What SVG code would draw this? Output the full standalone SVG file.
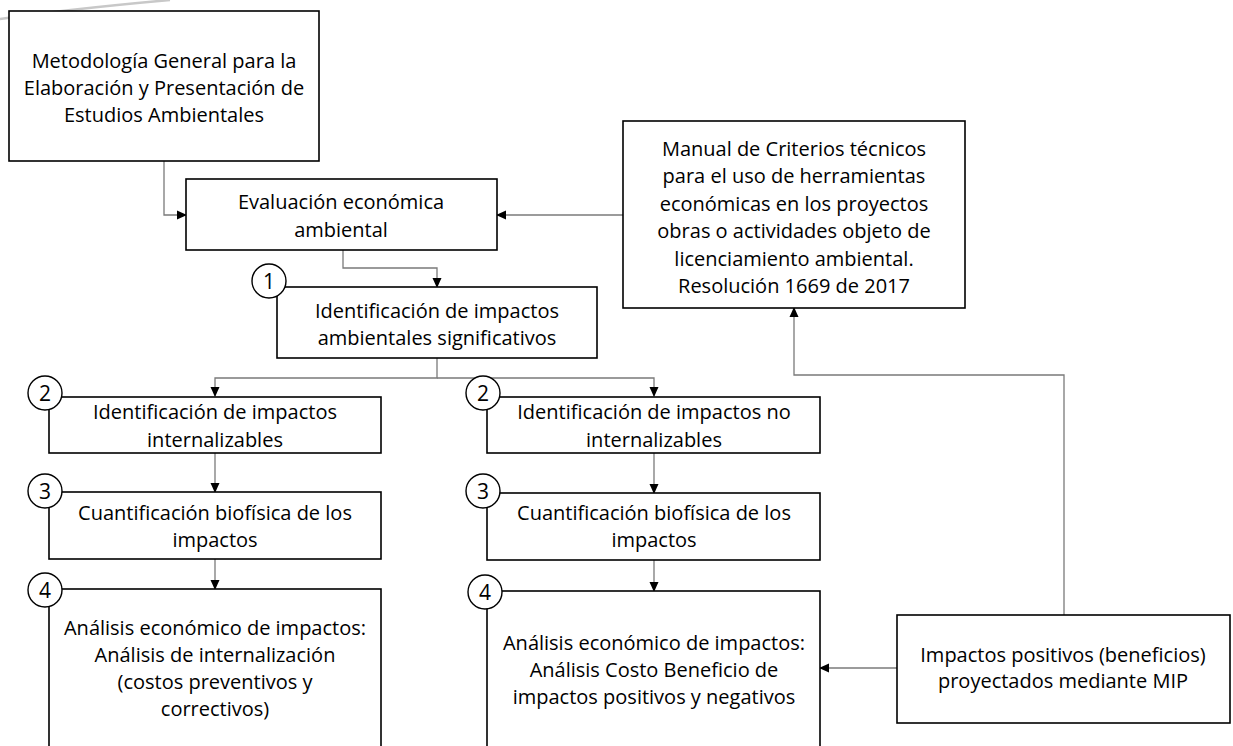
<svg xmlns="http://www.w3.org/2000/svg" width="1233" height="746" viewBox="0 0 1233 746">
<style>
.box{fill:#fff;stroke:#000;stroke-width:1.6}
.t{font-family:"Open Sans","Liberation Sans",sans-serif;font-size:20px;fill:#000;text-anchor:middle}
.num{font-family:"Open Sans","Liberation Sans",sans-serif;font-size:21px;fill:#000;text-anchor:middle}
.circ{fill:#fff;stroke:#000;stroke-width:1.4}
.c{fill:none;stroke:#7a7a7a;stroke-width:1.3}
</style>
<defs>
<marker id="ah" markerWidth="10" markerHeight="10" refX="9" refY="5" orient="auto" markerUnits="userSpaceOnUse">
<path d="M0,0.5 L10,5 L0,9.5 Z" fill="#000"/>
</marker>
</defs>
<rect width="1233" height="746" fill="#fff"/>
<path d="M0,19 Q70,9 170,0" fill="none" stroke="#c8c8c8" stroke-width="2.5"/>
<g id="connectors">
<path class="c" d="M164,161 V215 H186" marker-end="url(#ah)"/>
<path class="c" d="M623,215 H497" marker-end="url(#ah)"/>
<path class="c" d="M343,250 V268 H437 V287" marker-end="url(#ah)"/>
<path class="c" d="M437,358 V378 H215 V396" marker-end="url(#ah)"/>
<path class="c" d="M437,378 H654 V396" marker-end="url(#ah)"/>
<path class="c" d="M215,453 V492" marker-end="url(#ah)"/>
<path class="c" d="M215,559 V589" marker-end="url(#ah)"/>
<path class="c" d="M654,453 V493" marker-end="url(#ah)"/>
<path class="c" d="M654,560 V591" marker-end="url(#ah)"/>
<path class="c" d="M897,668 H820" marker-end="url(#ah)"/>
<path class="c" d="M1064,615 V375 H794 V308" marker-end="url(#ah)"/>
</g>
<g id="metodologia">
<rect class="box" x="9" y="11" width="310" height="150"/>
<text class="t" x="164" y="68">Metodología General para la</text>
<text class="t" x="164" y="95">Elaboración y Presentación de</text>
<text class="t" x="164" y="122">Estudios Ambientales</text>
</g>
<g id="evaluacion">
<rect class="box" x="186" y="179" width="311" height="71"/>
<text class="t" x="341" y="209">Evaluación económica</text>
<text class="t" x="341" y="237">ambiental</text>
</g>
<g id="manual">
<rect class="box" x="623" y="121" width="342" height="187"/>
<text class="t" x="794" y="156">Manual de Criterios técnicos</text>
<text class="t" x="794" y="183">para el uso de herramientas</text>
<text class="t" x="794" y="211">económicas en los proyectos</text>
<text class="t" x="794" y="238">obras o actividades objeto de</text>
<text class="t" x="794" y="266">licenciamiento ambiental.</text>
<text class="t" x="794" y="293">Resolución 1669 de 2017</text>
</g>
<g id="paso1">
<rect class="box" x="277" y="287" width="320" height="71"/>
<text class="t" x="437" y="318">Identificación de impactos</text>
<text class="t" x="437" y="345">ambientales significativos</text>
<circle class="circ" cx="269" cy="281" r="17"/>
<text class="num" x="269" y="289">1</text>
</g>
<g id="paso2a">
<rect class="box" x="49" y="397" width="332" height="56"/>
<text class="t" x="215" y="419">Identificación de impactos</text>
<text class="t" x="215" y="447">internalizables</text>
<circle class="circ" cx="45" cy="393" r="17"/>
<text class="num" x="45" y="401">2</text>
</g>
<g id="paso3a">
<rect class="box" x="49" y="492" width="332" height="67"/>
<text class="t" x="215" y="520">Cuantificación biofísica de los</text>
<text class="t" x="215" y="547">impactos</text>
<circle class="circ" cx="45" cy="491" r="17"/>
<text class="num" x="45" y="499">3</text>
</g>
<g id="paso4a">
<rect class="box" x="49" y="589" width="332" height="170"/>
<text class="t" x="215" y="635">Análisis económico de impactos:</text>
<text class="t" x="215" y="662">Análisis de internalización</text>
<text class="t" x="215" y="689">(costos preventivos y</text>
<text class="t" x="215" y="716">correctivos)</text>
<circle class="circ" cx="45" cy="590" r="17"/>
<text class="num" x="45" y="598">4</text>
</g>
<g id="paso2b">
<rect class="box" x="487" y="397" width="333" height="56"/>
<text class="t" x="654" y="419">Identificación de impactos no</text>
<text class="t" x="654" y="447">internalizables</text>
<circle class="circ" cx="483" cy="393" r="17"/>
<text class="num" x="483" y="401">2</text>
</g>
<g id="paso3b">
<rect class="box" x="487" y="493" width="333" height="67"/>
<text class="t" x="654" y="520">Cuantificación biofísica de los</text>
<text class="t" x="654" y="547">impactos</text>
<circle class="circ" cx="483" cy="491" r="17"/>
<text class="num" x="483" y="499">3</text>
</g>
<g id="paso4b">
<rect class="box" x="487" y="591" width="333" height="170"/>
<text class="t" x="654" y="650">Análisis económico de impactos:</text>
<text class="t" x="654" y="677">Análisis Costo Beneficio de</text>
<text class="t" x="654" y="704">impactos positivos y negativos</text>
<circle class="circ" cx="485" cy="592" r="17"/>
<text class="num" x="485" y="600">4</text>
</g>
<g id="impactos-positivos">
<rect class="box" x="897" y="615" width="333" height="108"/>
<text class="t" x="1063" y="662">Impactos positivos (beneficios)</text>
<text class="t" x="1063" y="688">proyectados mediante MIP</text>
</g>
</svg>
